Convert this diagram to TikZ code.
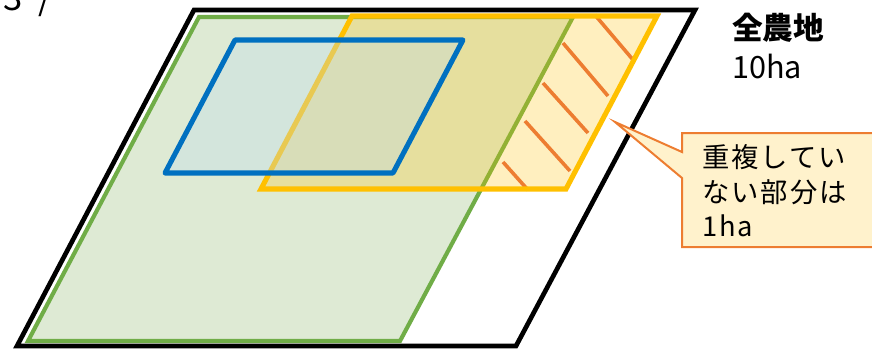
\documentclass[tikz,border=0pt]{standalone}
\usepackage{fontspec}
\newfontfamily\jp{Noto Sans CJK JP}
\newfontfamily\jpwide[LetterSpace=7]{Noto Sans CJK JP}
\definecolor{grn}{HTML}{70AD47}
\definecolor{grnfill}{HTML}{DEEAD4}
\definecolor{blu}{HTML}{0070C0}
\definecolor{blufill}{HTML}{BFDCEB}
\definecolor{ylw}{HTML}{FFC000}
\definecolor{org}{HTML}{ED7D31}
\definecolor{callfill}{HTML}{FFF2CC}
\begin{document}
\begin{tikzpicture}[x=0.75pt,y=-0.75pt,
  land/.style={draw=black,line width=3.5pt,line join=miter},
  greenarea/.style={draw=grn,fill=grnfill,line width=3.1pt,line join=miter},
  yellowfill/.style={fill=ylw,fill opacity=0.25},
  yellowline/.style={draw=ylw,line width=3.8pt,line join=miter},
  bluefill/.style={fill=blufill,fill opacity=0.35},
  blueline/.style={draw=blu,line width=3.8pt,line join=round},
  hatch/.style={draw=org,line width=2.7pt},
  callout/.style={draw=org,fill=callfill,line width=1.5pt,line join=miter},
  bigtxt/.style={font=\jp\fontsize{23}{28}\selectfont,inner sep=0pt,anchor=base west},
  calltxt/.style={font=\jpwide\fontsize{20.5}{25}\selectfont,inner sep=0pt,anchor=base west}]
\useasboundingbox (0,0) rectangle (872,351);
\clip (0,0) rectangle (872,351);
% partial text at top-left
\node[calltxt,font=\jp\fontsize{26}{30}\selectfont] (cut) at (3,10) {3\hspace{0.45em}/};
% whole farmland
\draw[land] (194,10) -- (695,10) -- (516,346) -- (17,346) -- cycle;
% green area
\draw[greenarea] (199,17) -- (573,17) -- (400,341) -- (28,341) -- cycle;
% yellow area fill
\fill[yellowfill] (352,16) -- (657,16) -- (566,189) -- (261,189) -- cycle;
% hatching
\draw[hatch] (595,15) -- (634,61);
\draw[hatch] (563,43) -- (608,96);
\draw[hatch] (543,83) -- (588,133);
\draw[hatch] (525,121) -- (570,171);
\draw[hatch] (503,162) -- (528,190);
% yellow outline
\draw[yellowline] (352,16) -- (657,16) -- (566,189) -- (261,189) -- cycle;
% blue area
\fill[bluefill] (235,40) -- (463,40) -- (393,173) -- (165,173) -- cycle;
\draw[blueline] (235,40) -- (463,40) -- (393,173) -- (165,173) -- cycle;
% callout
\draw[callout] (682,133) -- (880,133) -- (880,247) -- (682,247) -- (682,178) -- (615,122) -- (682,152) -- cycle;
\node[calltxt] (c1) at (702,167) {重複してい};
\node[calltxt] (c2) at (702,202) {ない部分は};
\node[calltxt] (c3) at (702,236) {1ha};
% label
\node[bigtxt,font=\jp\bfseries\fontsize{23}{28}\selectfont] (t1) at (732,39) {全農地};
\node[bigtxt] (t2) at (732,78) {10ha};
\end{tikzpicture}
\end{document}
